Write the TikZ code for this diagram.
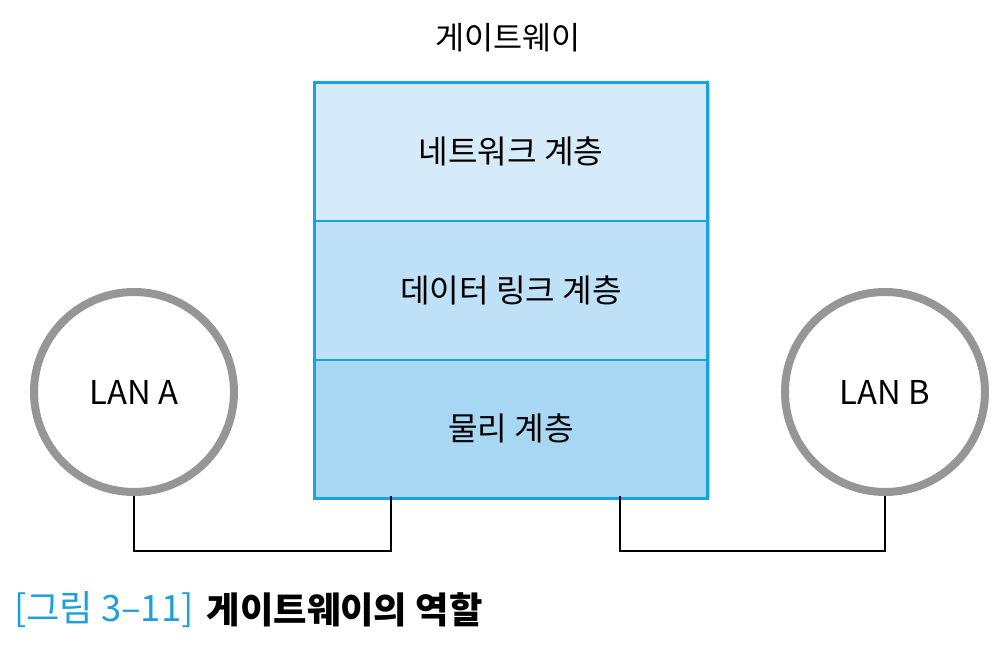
\documentclass[tikz,border=0pt]{standalone}
\usepackage{fontspec}
\setmainfont{Noto Sans CJK KR}
\usetikzlibrary{positioning, shadows, calc}
\definecolor{GWBlue}{RGB}{22,163,222}
\definecolor{GWTop}{RGB}{213,235,249}
\definecolor{GWMid}{RGB}{190,225,247}
\definecolor{GWBot}{RGB}{167,215,243}
\definecolor{GWRing}{RGB}{150,150,150}
\definecolor{GWCap}{RGB}{28,160,220}

\begin{document}
\begin{tikzpicture}[
          layer/.style={rectangle, minimum width=11.76cm, minimum height=4.13cm,
                        draw=GWBlue, line width=0.8pt, align=center,
                        font=\fontsize{27.5}{32}\selectfont},
          lan/.style={circle, minimum size=6cm, draw=GWRing, line width=0.24cm,
                      fill=white, font=\fontsize{28}{32}\selectfont,
                      drop shadow={shadow xshift=2.5pt, shadow yshift=-2.5pt,
                                   opacity=0.3}},
          wire/.style={draw=black, line width=1.4pt}
        ]
        \useasboundingbox (0,0) rectangle (30.18,20.07);

        % GATEWAY
        \node[font=\fontsize{27}{32}\selectfont] (gw) at (15.24, 18.93)
              {게이트웨이};
        \fill[black, opacity=0.22] (9.45+0.1, 17.58-0.1) rectangle (21.21+0.1, 5.19-0.1);
        \node[layer, fill=GWTop] (net)  at (15.33, 15.52) {네트워크 계층};
        \node[layer, fill=GWMid] (link) [below=0pt of net] {데이터 링크 계층};
        \node[layer, fill=GWBot] (phys) [below=0pt of link] {물리 계층};
        \draw[draw=GWBlue, line width=2.5pt] (net.north west) rectangle (phys.south east);

        % LANS
        \node[lan] (lanA) at (4.02, 8.31)  {LAN A};
        \node[lan] (lanB) at (26.55, 8.31) {LAN B};
        \coordinate (portA) at (11.73, 5.19);
        \coordinate (portB) at (18.60, 5.19);
        \draw[wire] (lanA.south) -- ++(0,-1.65) -| (portA);
        \draw[wire] (lanB.south) -- ++(0,-1.65) -| (portB);

        % CAPTION
        \node[anchor=west, font=\fontsize{31}{36}\selectfont, text=GWCap]
              (fig) at (0.3, 1.77) {[그림 3–11]};
        \node[anchor=west, font=\fontsize{31}{36}\selectfont\bfseries]
              (cap) [right=0.15cm of fig] {게이트웨이의 역할};
\end{tikzpicture}
\end{document}
